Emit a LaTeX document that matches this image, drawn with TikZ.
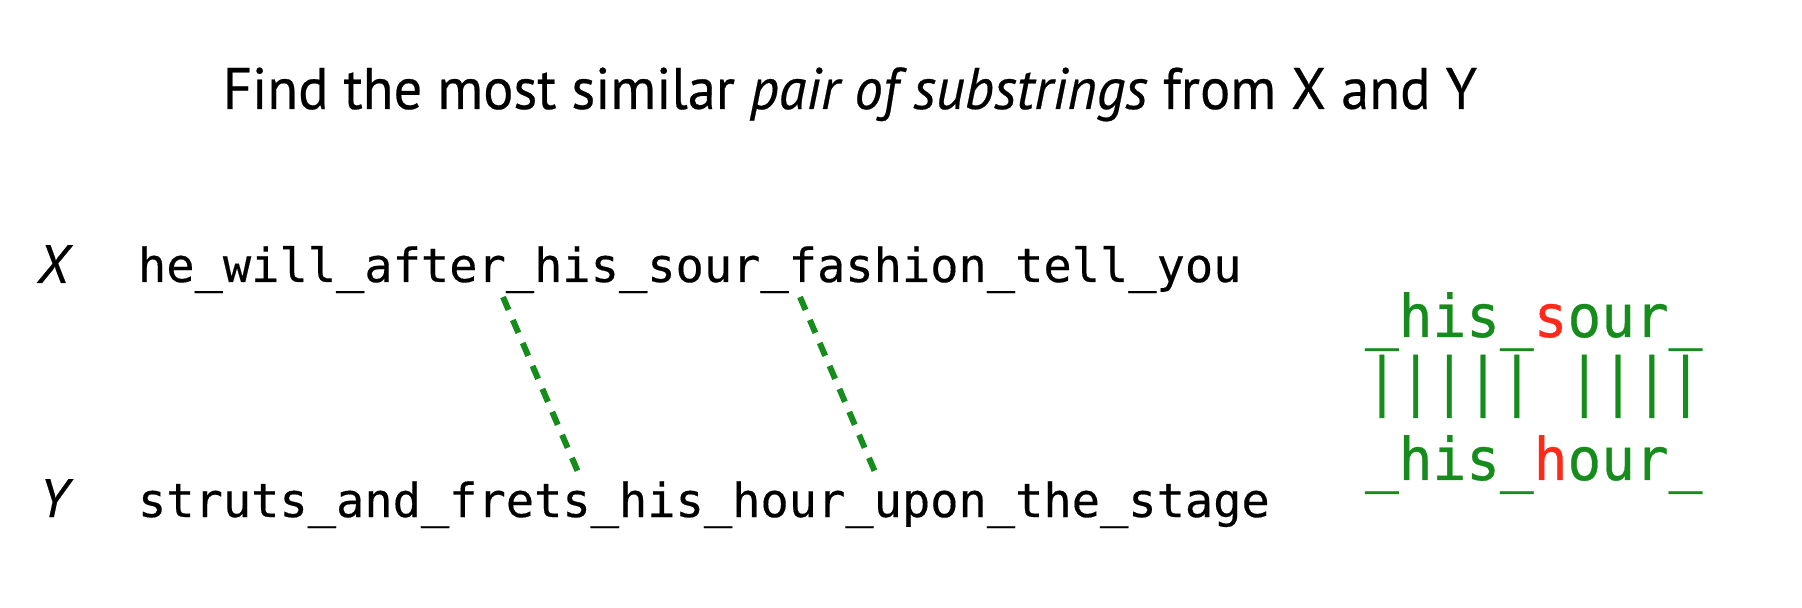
\documentclass[tikz,border=0pt]{standalone}
\usepackage{fontspec}
\usepackage{graphicx}
\setmainfont{PT Sans}
\newfontfamily\titlefont[FakeBold=0.4]{PT Sans}
\newfontfamily\codefont[FakeBold=0.3]{DejaVu Sans Mono}
\newfontfamily\matchfont[FakeBold=0.5]{DejaVu Sans Mono}
\definecolor{mgreen}{RGB}{22,140,28}
\definecolor{mred}{RGB}{255,42,26}
\begin{document}
\begin{tikzpicture}[x=0.5pt,y=-0.5pt,
  every node/.style={inner sep=0pt, outer sep=0pt},
  titletext/.style={anchor=base, font=\titlefont\fontsize{29.3pt}{34pt}\selectfont},
  varlabel/.style={anchor=base, font=\titlefont\itshape\fontsize{27pt}{32pt}\selectfont},
  seqtext/.style={anchor=base west, font=\codefont\fontsize{23.5pt}{28pt}\selectfont},
  matchtext/.style={anchor=base west, text=mgreen, font=\matchfont\fontsize{29.5pt}{34pt}\selectfont},
  link/.style={draw=mgreen, line width=3pt, dash pattern=on 7pt off 5.5pt}]
\useasboundingbox (0,0) rectangle (1802,608);
\node[titletext] (title) at (850,109) {\resizebox{627pt}{\height}{Find the most similar \textit{pair of substrings} from X and Y}};
\node[varlabel] (xl) at (53,283) {X};
\node[varlabel] (yl) at (54,517) {Y};
\node[seqtext] (xs) at (138,282) {he\_will\_after\_his\_sour\_fashion\_tell\_you};
\node[seqtext] (ys) at (138,517) {struts\_and\_frets\_his\_hour\_upon\_the\_stage};
\coordinate (x1) at (503,297);
\coordinate (y1) at (578,472);
\coordinate (x2) at (800,297);
\coordinate (y2) at (875,472);
\draw[link] (x1) -- (y1);
\draw[link] (x2) -- (y2);
\node[matchtext] (m1) at (1365,337) {\scalebox{0.95}[1]{\_his\_\textcolor{mred}{s}our\_}};
\node[matchtext] (bars) at (1365,403) {\scalebox{0.95}[1.07]{|||||\phantom{|}||||}};
\node[matchtext] (m2) at (1365,480) {\scalebox{0.95}[1]{\_his\_\textcolor{mred}{h}our\_}};
\end{tikzpicture}
\end{document}
